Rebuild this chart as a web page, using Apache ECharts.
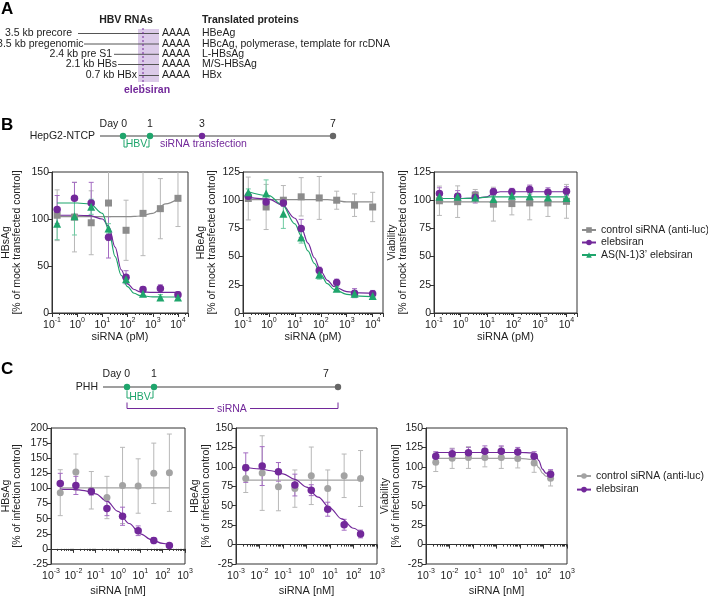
<!DOCTYPE html>
<html>
<head>
<meta charset="utf-8">
<script src="https://cdn.jsdelivr.net/npm/echarts@6/dist/echarts.min.js"></script>
<style>
	html, body { margin: 0; padding: 0; background: #fff; }
	#box { width: 708px; height: 597px; }
</style>
</head>
<body>
<div id="box"></div>
<script>
	var FONT = 'Arial, "Liberation Sans", Helvetica, sans-serif';
	var PURPLE = '#72289a', GREEN = '#1fa56c', GRAY_B = '#8c8c8c', GRAY_C = '#a3a3a3';
	var PURPLE_E = '#a46cc2', GREEN_E = '#6fcaa2', GRAY_E = '#b8b8b8';

	// siRNA concentrations
	var doseB = [0.16, 0.78, 3.6, 17.5, 87, 410, 2000, 10000];      // pM
	var doseC = [0.0026, 0.013, 0.064, 0.32, 1.6, 8, 40, 200];      // nM

	// B - HBsAg
	var b1Ctrl = [104, 102, 96, 117, 88, 106, 111, 122];
	var b1CtrlErr = [27, 37, 34, 40, 32, 45, 32, 30];
	var b1Eleb = [110, 122, 117, 80.5, 38, 25, 26, 19.5];
	var b1ElebErr = [15, 17, 22, 22, 7, 3, 4, 3];
	var b1AS = [95, 103, 113, 90, 36, 20.5, 16.6, 16.6];
	var b1ASErr = [17, 20, 8, 5, 4, 3, 3, 3];
	// B - HBeAg
	var b2Ctrl = [101.5, 94, 100, 103, 102, 100, 95.6, 94];
	var b2CtrlErr = [19, 20, 13, 17, 19, 8, 10, 13];
	var b2Eleb = [103.5, 98.5, 97.6, 75, 37.6, 27, 17.6, 17];
	var b2ElebErr = [3, 5, 3, 8, 3, 3, 4, 3];
	var b2AS = [107, 106, 88, 67, 34, 21.5, 17, 15];
	var b2ASErr = [3, 12, 13, 5, 4, 2, 3, 3];
	// B - viability
	var b3Ctrl = [99.5, 98.7, 104.5, 96.5, 97, 97.6, 97.6, 99];
	var b3CtrlErr = [13, 14, 5, 15, 10, 15, 12, 15];
	var b3Eleb = [106, 103.5, 102.5, 107.5, 107.5, 109.4, 107, 108];
	var b3ElebErr = [5, 5, 5, 3, 3, 4, 4, 4];
	var b3AS = [103, 103, 102.5, 101, 104, 103.5, 102.4, 102];
	var b3ASErr = [3, 3, 3, 3, 3, 3, 3, 3];

	// fitted curves
	var fitXB = [0.16, 1, 3.2, 10, 18, 32, 56, 100, 180, 320, 1000, 3200, 10000];
	var b1CtrlFit = [102.5, 102.5, 102.5, 102.5, 102.5, 102.5, 102.5, 102.5, 102.7, 103.2, 106, 116, 121.5];
	var b1ElebFit = [104, 104, 103.5, 100, 92, 70, 46, 31, 25, 22.5, 22, 22, 22];
	var b1ASFit = [117, 117, 116, 106, 88, 60, 40, 28, 21, 18.5, 17.2, 17, 17];
	var b2CtrlFit = [100.5, 100.5, 100.5, 100.5, 100.5, 100.5, 100.5, 100.5, 100.5, 100, 98.5, 98.5, 98.5];
	var b2ElebFit = [102.5, 101, 96, 84, 75, 62, 49, 37, 29, 23.5, 19, 17.8, 17.5];
	var b2ASFit = [107.5, 104, 96, 79, 68, 55, 44, 34, 26, 21, 16.5, 15, 14.5];
	var b3CtrlFit = [98.5, 98.5, 98.5, 98.5, 98.5, 98.5, 98.5, 98.5, 98.5, 98.5, 98.5, 98.5, 98.5];
	var b3ElebFit = [101.5, 101.5, 101.7, 103, 106.5, 107.5, 107.5, 107.5, 107.5, 107.5, 107.5, 107.5, 107.5];
	var b3ASFit = [101.5, 101.5, 101.8, 102.8, 103, 103, 103, 103, 103, 103, 103, 103, 103];

	// C - HBsAg
	var c1Ctrl = [93, 127, 97, 85, 105, 104, 125, 126];
	var c1CtrlErr = [38, 30, 31, 35, 63, 45, 50, 64];
	var c1Eleb = [108, 105, 95, 67, 54, 30, 13.7, 5.5];
	var c1ElebErr = [17, 15, 6, 12, 15, 8, 5, 2];
	// C - HBeAg
	var c2Ctrl = [85, 92, 74.5, 72, 88.5, 72, 88.5, 85];
	var c2CtrlErr = [18, 48, 31, 24, 37, 24, 28, 36];
	var c2Eleb = [99, 101, 93.6, 76.6, 70, 45.5, 25.5, 13.6];
	var c2ElebErr = [19, 25, 12, 14, 7, 9, 7, 5];
	// C - viability
	var c3Ctrl = [106, 111, 112, 112, 112, 110.6, 105, 85.4];
	var c3CtrlErr = [12, 13, 14, 12, 14, 12, 12, 10];
	var c3Eleb = [113.5, 117, 118, 120, 120, 119, 113.5, 90.4];
	var c3ElebErr = [6, 6, 7, 7, 7, 6, 6, 6];

	var fitXC = [0.0026, 0.01, 0.0316, 0.1, 0.316, 1, 3.16, 10, 31.6, 100, 200];
	var c1CtrlFit = [101, 101, 101, 101, 101, 101, 101, 101, 101, 101, 101];
	var c1ElebFit = [99, 98.5, 96.5, 91, 79, 62, 42, 25, 15, 9, 6.5];
	var c2CtrlFit = [83, 83, 83, 83, 83, 83, 83, 83, 83, 83, 83];
	var c2ElebFit = [99.5, 97.5, 95, 91, 84, 74, 61, 47, 33, 21, 15];
	var fitXC3 = [0.0026, 0.1, 10, 32, 45, 63, 90, 126, 200];
	var c3CtrlFit = [111, 111, 111, 109.5, 105, 99, 92, 88, 86];
	var c3ElebFit = [118.5, 118.5, 118.5, 118, 116.5, 108, 97, 92, 90.5];

	// panel A
	var rnaNames = ['3.5 kb precore', '3.5 kb pregenomic', '2.4 kb pre S1', '2.1 kb HBs', '0.7 kb HBx'];
	var proteins = ['HBeAg', 'HBcAg, polymerase, template for rcDNA', 'L-HBsAg', 'M/S-HBsAg', 'HBx'];

	function powLabel(v) {
		var e = Math.log10(v);
		var r = Math.round(e);
		if (Math.abs(e - r) > 0.01) return '';
		return '{b|10}{s|' + r + '}';
	}

	var grids = [
		{ left: 49, top: 172, width: 139, height: 141 },
		{ left: 243, top: 172, width: 140, height: 141 },
		{ left: 434, top: 172, width: 143, height: 141 },
		{ left: 49, top: 428, width: 136, height: 137 },
		{ left: 236, top: 428, width: 141, height: 138 },
		{ left: 426, top: 428, width: 141, height: 138 }
	];
	grids.forEach(function (g) {
		g.show = true;
		g.borderColor = '#333';
		g.borderWidth = 1;
		g.backgroundColor = 'transparent';
	});

	function xAxis(i, min, max, name) {
		return {
			type: 'log', logBase: 10, gridIndex: i, min: min, max: max, splitNumber: 6,
			axisLine: { lineStyle: { color: '#333', width: 1 } },
			axisTick: { length: 4, lineStyle: { color: '#333' } },
			minorTick: { show: true, splitNumber: 9, length: 2, lineStyle: { color: '#333' } },
			splitLine: { show: false },
			axisLabel: {
				margin: 4, formatter: powLabel,
				rich: {
					b: { fontSize: 10.5, color: '#222', fontFamily: FONT, lineHeight: 14, verticalAlign: 'bottom' },
					s: { fontSize: 7, color: '#222', fontFamily: FONT, lineHeight: 8, verticalAlign: 'top' }
				}
			},
			name: name, nameLocation: 'middle', nameGap: name.indexOf('pM') > 0 ? 18 : 21,
			nameTextStyle: { fontSize: 11, color: '#222', fontFamily: FONT }
		};
	}

	function yAxis(i, min, max, interval, name, gap) {
		return {
			type: 'value', gridIndex: i, min: min, max: max, interval: interval,
			axisLine: { show: true, lineStyle: { color: '#333', width: 1 } },
			axisTick: { show: true, length: 4, lineStyle: { color: '#333' } },
			splitLine: { show: false },
			axisLabel: { fontSize: 10.5, color: '#222', fontFamily: FONT, margin: 3 },
			name: name, nameLocation: 'middle', nameGap: gap,
			nameTextStyle: { fontSize: 10.5, color: '#222', fontFamily: FONT, lineHeight: 11 }
		};
	}

	var xAxes = [
		xAxis(0, 0.1, 25000, 'siRNA (pM)'),
		xAxis(1, 0.1, 25000, 'siRNA (pM)'),
		xAxis(2, 0.1, 25000, 'siRNA (pM)'),
		xAxis(3, 0.001, 1000, 'siRNA [nM]'),
		xAxis(4, 0.001, 1000, 'siRNA [nM]'),
		xAxis(5, 0.001, 1000, 'siRNA [nM]')
	];
	var yAxes = [
		yAxis(0, 0, 150, 50, 'HBsAg\n[% of mock transfected control]', 29),
		yAxis(1, 0, 125, 25, 'HBeAg\n[% of mock transfected control]', 25),
		yAxis(2, 0, 125, 25, 'Viability\n[% of mock transfected control]', 25),
		yAxis(3, -25, 200, 25, 'HBsAg\n[% of infection control]', 28),
		yAxis(4, -25, 150, 25, 'HBeAg\n[% of infection control]', 20),
		yAxis(5, -25, 150, 25, 'Viability\n[% of infection control]', 23)
	];

	function errBars(g, xs, ys, errs, color) {
		return {
			type: 'custom', xAxisIndex: g, yAxisIndex: g, clip: true, silent: true, z: 2,
			data: xs.map(function (x, i) { return [x, ys[i], errs[i]]; }),
			renderItem: function (params, api) {
				var x = api.value(0), y = api.value(1), e = api.value(2);
				var t = api.coord([x, y + e]);
				var b = api.coord([x, y - e]);
				var st = { stroke: color, lineWidth: 1 };
				return {
					type: 'group',
					children: [
						{ type: 'line', shape: { x1: t[0], y1: t[1], x2: b[0], y2: b[1] }, style: st },
						{ type: 'line', shape: { x1: t[0] - 2.5, y1: t[1], x2: t[0] + 2.5, y2: t[1] }, style: st },
						{ type: 'line', shape: { x1: b[0] - 2.5, y1: b[1], x2: b[0] + 2.5, y2: b[1] }, style: st }
					]
				};
			}
		};
	}

	function points(g, xs, ys, color, symbol, size) {
		return {
			type: 'scatter', xAxisIndex: g, yAxisIndex: g, symbol: symbol, symbolSize: size, z: 4,
			itemStyle: { color: color, opacity: 1 }, silent: true,
			data: xs.map(function (x, i) { return [x, ys[i]]; })
		};
	}

	function fit(g, name, xs, ys, color, symbol) {
		return {
			type: 'line', name: name, xAxisIndex: g, yAxisIndex: g, symbol: symbol, symbolSize: 7,
			showSymbol: false, smooth: 0.35, smoothMonotone: 'x', z: 3, silent: true,
			lineStyle: { color: color, width: 1.2 }, itemStyle: { color: color },
			data: xs.map(function (x, i) { return [x, ys[i]]; })
		};
	}

	var N_CTRL_B = 'B:control siRNA (anti-luc)', N_ELEB_B = 'B:elebsiran', N_AS_B = 'B:AS(N-1)3\u2019 elebsiran';
	var N_CTRL_C = 'C:control siRNA (anti-luc)', N_ELEB_C = 'C:elebsiran';

	var series = [];
	function addB(g, ctrl, ctrlE, ctrlF, eleb, elebE, elebF, as, asE, asF) {
		series.push(errBars(g, doseB, ctrl, ctrlE, GRAY_E));
		series.push(errBars(g, doseB, eleb, elebE, PURPLE_E));
		series.push(errBars(g, doseB, as, asE, GREEN_E));
		series.push(fit(g, N_CTRL_B, fitXB, ctrlF, GRAY_B, 'rect'));
		series.push(fit(g, N_ELEB_B, fitXB, elebF, PURPLE, 'circle'));
		series.push(fit(g, N_AS_B, fitXB, asF, GREEN, 'triangle'));
		series.push(points(g, doseB, ctrl, GRAY_B, 'rect', 7));
		series.push(points(g, doseB, eleb, PURPLE, 'circle', 7.5));
		series.push(points(g, doseB, as, GREEN, 'triangle', 8));
	}
	function addC(g, fx, ctrl, ctrlE, ctrlF, eleb, elebE, elebF) {
		series.push(errBars(g, doseC, ctrl, ctrlE, GRAY_E));
		series.push(errBars(g, doseC, eleb, elebE, PURPLE_E));
		series.push(fit(g, N_CTRL_C, fx, ctrlF, GRAY_C, 'circle'));
		series.push(fit(g, N_ELEB_C, fx, elebF, PURPLE, 'circle'));
		series.push(points(g, doseC, ctrl, GRAY_C, 'circle', 7));
		series.push(points(g, doseC, eleb, PURPLE, 'circle', 7.5));
	}
	addB(0, b1Ctrl, b1CtrlErr, b1CtrlFit, b1Eleb, b1ElebErr, b1ElebFit, b1AS, b1ASErr, b1ASFit);
	addB(1, b2Ctrl, b2CtrlErr, b2CtrlFit, b2Eleb, b2ElebErr, b2ElebFit, b2AS, b2ASErr, b2ASFit);
	addB(2, b3Ctrl, b3CtrlErr, b3CtrlFit, b3Eleb, b3ElebErr, b3ElebFit, b3AS, b3ASErr, b3ASFit);
	addC(3, fitXC, c1Ctrl, c1CtrlErr, c1CtrlFit, c1Eleb, c1ElebErr, c1ElebFit);
	addC(4, fitXC, c2Ctrl, c2CtrlErr, c2CtrlFit, c2Eleb, c2ElebErr, c2ElebFit);
	addC(5, fitXC3, c3Ctrl, c3CtrlErr, c3CtrlFit, c3Eleb, c3ElebErr, c3ElebFit);

	function stripName(n) { return n.replace(/^[BC]:/, ''); }
	var legendText = { fontSize: 10.5, color: '#222', fontFamily: FONT, lineHeight: 12 };

	// ---- drawings (panel A + timelines) ----
	var gfx = [];
	function txt(x, y, s, o) {
		o = o || {};
		var align = o.align || 'left';
		gfx.push({
			type: 'text', x: x, y: y, silent: true,
			style: {
				text: s, fill: o.color || '#222',
				font: (o.bold ? 'bold ' : '') + (o.size || 10.5) + 'px ' + FONT,
				align: align, textAlign: align, verticalAlign: 'middle', textVerticalAlign: 'middle'
			}
		});
	}
	function ln(x1, y1, x2, y2, color, w, dash) {
		gfx.push({
			type: 'line', silent: true, shape: { x1: x1, y1: y1, x2: x2, y2: y2 },
			style: { stroke: color, lineWidth: w || 1, lineDash: dash || null }
		});
	}
	function dot(cx, cy, color) {
		gfx.push({ type: 'circle', silent: true, shape: { cx: cx, cy: cy, r: 3.2 }, style: { fill: color } });
	}
	function poly(pts, color) {
		gfx.push({ type: 'polyline', silent: true, shape: { points: pts }, style: { stroke: color, lineWidth: 1, fill: null } });
	}

	// A
	txt(1, 9, 'A', { bold: true, size: 17, color: '#000' });
	txt(126, 20.5, 'HBV RNAs', { bold: true, size: 10.5, align: 'center' });
	txt(202, 20.5, 'Translated proteins', { bold: true, size: 10.5 });
	gfx.push({ type: 'rect', silent: true, shape: { x: 138, y: 29, width: 21, height: 53 }, style: { fill: '#dccbe9' } });
	var rowY = [33.5, 44, 54.3, 64.5, 75.5];
	var labRight = [72, 83.5, 112, 117, 137];
	var lineStart = [78, 84, 114, 118, 139];
	rnaNames.forEach(function (n, i) {
		txt(labRight[i], rowY[i], n, { align: 'right' });
		ln(lineStart[i], rowY[i], 159, rowY[i], '#555', 1);
		txt(162, rowY[i], 'AAAA');
		txt(202, rowY[i], proteins[i]);
	});
	ln(143, 28, 143, 86, PURPLE, 1, [2, 2]);
	txt(147, 90.5, 'elebsiran', { bold: true, size: 10.5, color: PURPLE, align: 'center' });

	// B timeline
	txt(1, 125, 'B', { bold: true, size: 17, color: '#000' });
	txt(95, 136, 'HepG2-NTCP', { align: 'right' });
	ln(100, 136, 333, 136, '#7f7f7f', 1.3);
	dot(123, 136, GREEN); dot(150, 136, GREEN); dot(202, 136, PURPLE); dot(333, 136, '#666');
	txt(127, 124, 'Day 0', { align: 'right' });
	txt(150, 124, '1', { align: 'center' });
	txt(202, 124, '3', { align: 'center' });
	txt(333, 124, '7', { align: 'center' });
	poly([[124, 139.5], [124, 147], [127, 147]], GREEN);
	poly([[149, 139.5], [149, 147], [146, 147]], GREEN);
	txt(136.5, 144, 'HBV', { align: 'center', color: GREEN });
	txt(160, 144, 'siRNA transfection', { color: PURPLE });

	// C timeline
	txt(1, 369, 'C', { bold: true, size: 17, color: '#000' });
	txt(98, 387, 'PHH', { align: 'right' });
	ln(103, 387, 338, 387, '#7f7f7f', 1.3);
	dot(127, 387, GREEN); dot(154, 387, GREEN); dot(338, 387, '#666');
	txt(130, 374, 'Day 0', { align: 'right' });
	txt(154, 374, '1', { align: 'center' });
	txt(326, 374, '7', { align: 'center' });
	poly([[127, 390.5], [127, 398], [130, 398]], GREEN);
	poly([[153, 390.5], [153, 398], [150, 398]], GREEN);
	txt(140, 397, 'HBV', { align: 'center', color: GREEN });
	poly([[127, 402.5], [127, 408.5], [214, 408.5]], PURPLE);
	poly([[250, 408.5], [338, 408.5], [338, 402.5]], PURPLE);
	txt(232, 409, 'siRNA', { align: 'center', color: PURPLE });

	var option = {
		animation: false,
		backgroundColor: '#fff',
		textStyle: { fontFamily: FONT },
		grid: grids,
		xAxis: xAxes,
		yAxis: yAxes,
		legend: [{
			data: [N_CTRL_B, N_ELEB_B, N_AS_B], orient: 'vertical', left: 581, top: 224, padding: 0,
			itemWidth: 14, itemHeight: 7, itemGap: 0.5, textStyle: legendText,
			formatter: stripName, selectedMode: false
		}, {
			data: [N_CTRL_C, N_ELEB_C], orient: 'vertical', left: 576, top: 470, padding: 0,
			itemWidth: 14, itemHeight: 7, itemGap: 1.6, textStyle: legendText,
			formatter: stripName, selectedMode: false
		}],
		series: series,
		graphic: gfx
	};

	var myChart = echarts.init(document.getElementById('box'), null, { renderer: 'canvas' });
	myChart.setOption(option);
</script>
</body>
</html>
